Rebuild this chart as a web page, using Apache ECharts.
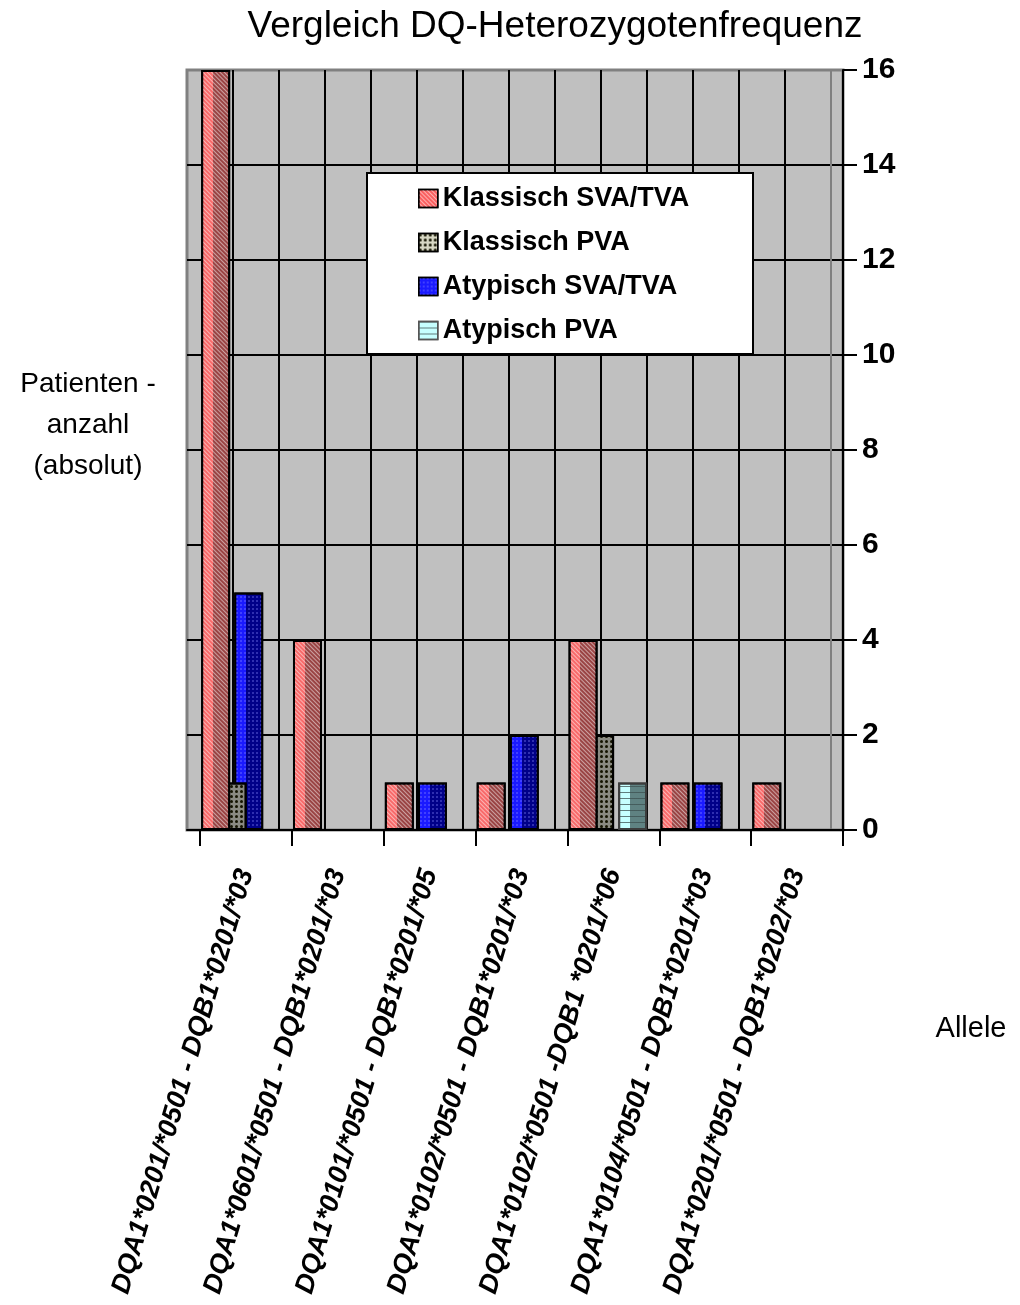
<!DOCTYPE html>
<html>
<head>
<meta charset="utf-8">
<script src="https://cdn.jsdelivr.net/npm/echarts@6/dist/echarts.min.js"></script>
<style>
  html, body { margin: 0; padding: 0; background: #ffffff; }
  #chart { width: 1020px; height: 1305px; }
</style>
</head>
<body>
<div id="chart"></div>
<script>
// Allele combinations on the category axis
const categories = [
  'DQA1*0201/*0501 - DQB1*0201/*03',
  'DQA1*0601/*0501 - DQB1*0201/*03',
  'DQA1*0101/*0501 - DQB1*0201/*05',
  'DQA1*0102/*0501 - DQB1*0201/*03',
  'DQA1*0102/*0501 -DQB1 *0201/*06',
  'DQA1*0104/*0501 - DQB1*0201/*03',
  'DQA1*0201/*0501 - DQB1*0202/*03'
];

// Patient counts per group
const klassischSvaTva = [16, 4, 1, 1, 4, 1, 1];
const klassischPva    = [1, 0, 0, 0, 2, 0, 0];
const atypischSvaTva  = [5, 0, 1, 2, 0, 1, 0];
const atypischPva     = [0, 0, 0, 0, 1, 0, 0];

const seriesNames = ['Klassisch SVA/TVA', 'Klassisch PVA', 'Atypisch SVA/TVA', 'Atypisch PVA'];

// Value axis ticks
const yMin = 0, yMax = 16, yStep = 2;

const FONT = '"Liberation Sans", Arial, Helvetica, sans-serif';

// Lit front face on the left, shaded side face on the right
function face(light, dark) {
  return {
    type: 'linear', x: 0, y: 0, x2: 1, y2: 0,
    colorStops: [
      { offset: 0, color: light }, { offset: 0.41, color: light },
      { offset: 0.41, color: dark }, { offset: 1, color: dark }
    ]
  };
}

const hatch = {
  symbol: 'rect', symbolSize: 1, color: 'rgba(255,255,255,0.5)',
  dashArrayX: [1, 0], dashArrayY: [1, 2], rotation: Math.PI / 4
};
const darkDots = {
  symbol: 'circle', symbolSize: 1, color: '#141400',
  dashArrayX: [2.5, 1.5], dashArrayY: [2.5, 1.5], rotation: 0
};
const blueDots = {
  symbol: 'circle', symbolSize: 1, color: 'rgba(140,140,255,0.45)',
  dashArrayX: [2, 2], dashArrayY: [2, 2], rotation: 0
};
const stripes = {
  symbol: 'rect', symbolSize: 1, color: 'rgba(60,80,80,0.75)',
  dashArrayX: [1, 0], dashArrayY: [1, 5], rotation: 0
};

const styles = [
  { color: face('#f86a6a', '#9a4444'), borderColor: '#000', decal: hatch, z: 6 },
  { color: face('#a0a096', '#8a8a82'), borderColor: '#000', decal: darkDots, z: 5 },
  { color: face('#1a1aff', '#000088'), borderColor: '#000', decal: blueDots, z: 4 },
  { color: face('#c6ffff', '#5f8282'), borderColor: '#3c3c3c', decal: stripes, z: 3 }
];
const legendStyles = [
  { color: '#fa6060', decal: hatch, borderColor: '#000' },
  { color: '#d8d8c4', decal: darkDots, borderColor: '#000' },
  { color: '#1a1aff', decal: blueDots, borderColor: '#000' },
  { color: '#c6ffff', decal: stripes, borderColor: '#555' }
];

const values = [klassischSvaTva, klassischPva, atypischSvaTva, atypischPva];

const series = values.map((vals, i) => ({
  name: seriesNames[i],
  type: 'bar',
  xAxisIndex: 2,
  yAxisIndex: 2,
  z: styles[i].z,
  barWidth: 29,
  barGap: '-43%',
  data: vals.map(v => (v === 0 ? '-' : v)),
  itemStyle: {
    color: styles[i].color,
    borderColor: styles[i].borderColor,
    borderWidth: 2,
    decal: styles[i].decal
  },
  emphasis: { disabled: true },
  animation: false
}));

// back wall: 14 half-category panels, 46 px wide
const wallMax = 656 / 46;
const vLineColors = [];
for (let k = 1; k <= 13; k++) vLineColors.push('#000');
vLineColors.push('#808080', '#000');

const option = {
  animation: false,
  grid: [
    { left: 187, right: 177, top: 70, bottom: 475, show: true,
      backgroundColor: '#c0c0c0', borderColor: '#808080', borderWidth: 3,
      outerBoundsMode: 'none' },
    { left: 200, right: 177, top: 70, bottom: 475, outerBoundsMode: 'none' },
    { left: 194.5, right: 182.5, top: 70, bottom: 475, outerBoundsMode: 'none' }
  ],
  xAxis: [
    { gridIndex: 0, type: 'value', min: 0, max: wallMax, interval: 1,
      axisLine: { show: true, onZero: false, lineStyle: { color: '#000', width: 2 } },
      axisTick: { show: false }, axisLabel: { show: false },
      splitLine: { show: true, showMinLine: false, lineStyle: { color: vLineColors, width: 2 } } },
    { gridIndex: 1, type: 'category', data: categories, boundaryGap: true,
      axisLine: { show: true, lineStyle: { color: '#000', width: 2 } },
      axisTick: { show: true, alignWithLabel: false, length: 16, lineStyle: { color: '#000', width: 2 } },
      axisLabel: { show: true, interval: 0, rotate: 73.5, margin: 40, color: '#000',
        fontFamily: FONT, fontSize: 27, fontWeight: 'bold', fontStyle: 'italic' },
      splitLine: { show: false } },
    { gridIndex: 2, type: 'category', data: categories, show: false }
  ],
  yAxis: [
    { gridIndex: 0, type: 'value', min: yMin, max: yMax, interval: yStep,
      axisLine: { show: false }, axisTick: { show: false }, axisLabel: { show: false },
      splitLine: { show: true, showMinLine: false, showMaxLine: false,
        lineStyle: { color: '#000', width: 2 } } },
    { gridIndex: 1, type: 'value', position: 'right', min: yMin, max: yMax, interval: yStep,
      axisLine: { show: true, lineStyle: { color: '#000', width: 2 } },
      axisTick: { show: true, length: 14, lineStyle: { color: '#000', width: 2 } },
      axisLabel: { show: true, margin: 19, color: '#000', fontFamily: FONT,
        fontSize: 30, fontWeight: 'bold' },
      splitLine: { show: false } },
    { gridIndex: 2, type: 'value', min: yMin, max: yMax, show: false }
  ],
  legend: {
    orient: 'vertical',
    left: 418,
    top: 185,
    padding: 0,
    itemWidth: 19,
    itemHeight: 18,
    itemGap: 17,
    selectedMode: false,
    icon: 'rect',
    z: 20,
    textStyle: { fontFamily: FONT, fontSize: 27, fontWeight: 'bold', color: '#000', lineHeight: 27 },
    data: seriesNames.map((n, i) => ({
      name: n,
      itemStyle: Object.assign({ borderWidth: 1.5 }, legendStyles[i])
    }))
  },
  graphic: [
    { type: 'text', z: 10,
      style: { x: 555, y: 8, text: 'Vergleich DQ-Heterozygotenfrequenz', fill: '#000',
        font: '37px ' + FONT, align: 'center', verticalAlign: 'top' } },
    { type: 'text', z: 10,
      style: { x: 88, y: 364, text: 'Patienten -\nanzahl\n(absolut)', fill: '#000',
        font: '28px ' + FONT, align: 'center', verticalAlign: 'top', lineHeight: 41 } },
    { type: 'text', z: 10,
      style: { x: 971, y: 1014, text: 'Allele', fill: '#000',
        font: '29px ' + FONT, align: 'center', verticalAlign: 'top' } },
    { type: 'rect', z: 15,
      shape: { x: 367, y: 173, width: 386, height: 181 },
      style: { fill: '#ffffff', stroke: '#000', lineWidth: 2 } }
  ],
  series: series
};

const chart = echarts.init(document.getElementById('chart'), null, { renderer: 'canvas' });
chart.setOption(option);
</script>
</body>
</html>
